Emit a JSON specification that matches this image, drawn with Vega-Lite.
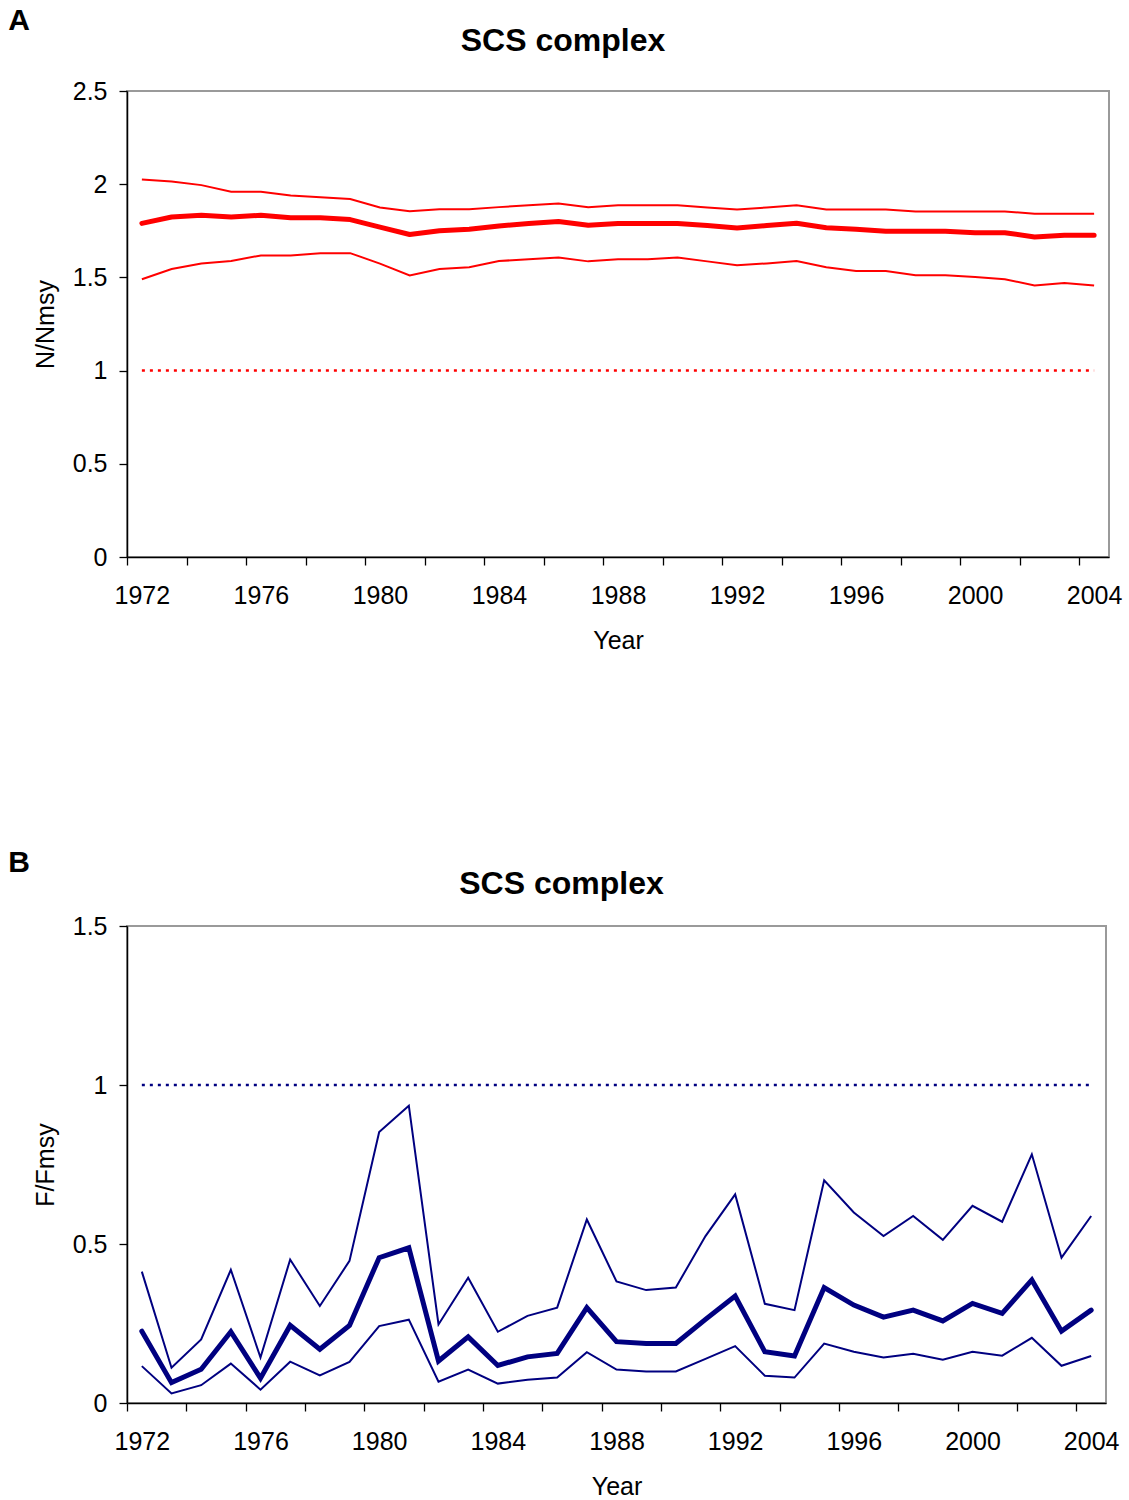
{
  "$schema": "https://vega.github.io/schema/vega-lite/v6.json",
  "background": "white",
  "padding": {"left": 8, "top": 6, "right": 5, "bottom": 0},
  "config": {
    "font": "Liberation Sans",
    "view": {"stroke": "#9a9a9a", "strokeWidth": 2},
    "axis": {
      "labelFont": "Liberation Sans",
      "titleFont": "Liberation Sans",
      "labelFontSize": 25,
      "titleFontSize": 25,
      "titleFontWeight": "normal",
      "labelColor": "#000000",
      "titleColor": "#000000",
      "domainColor": "#000000",
      "domainWidth": 1.5,
      "tickColor": "#000000",
      "tickWidth": 1.3,
      "grid": false
    }
  },
  "datasets": {
    "n": [
      {"year": 1972, "lower": 1.49, "estimate": 1.79, "upper": 2.025},
      {"year": 1973, "lower": 1.545, "estimate": 1.824, "upper": 2.015},
      {"year": 1974, "lower": 1.575, "estimate": 1.833, "upper": 1.995},
      {"year": 1975, "lower": 1.588, "estimate": 1.824, "upper": 1.96},
      {"year": 1976, "lower": 1.618, "estimate": 1.833, "upper": 1.96},
      {"year": 1977, "lower": 1.618, "estimate": 1.82, "upper": 1.94},
      {"year": 1978, "lower": 1.63, "estimate": 1.82, "upper": 1.93},
      {"year": 1979, "lower": 1.63, "estimate": 1.81, "upper": 1.92},
      {"year": 1980, "lower": 1.574, "estimate": 1.77, "upper": 1.875},
      {"year": 1981, "lower": 1.51, "estimate": 1.73, "upper": 1.855},
      {"year": 1982, "lower": 1.545, "estimate": 1.75, "upper": 1.865},
      {"year": 1983, "lower": 1.555, "estimate": 1.758, "upper": 1.865},
      {"year": 1984, "lower": 1.588, "estimate": 1.776, "upper": 1.877},
      {"year": 1985, "lower": 1.597, "estimate": 1.789, "upper": 1.887},
      {"year": 1986, "lower": 1.607, "estimate": 1.8, "upper": 1.897},
      {"year": 1987, "lower": 1.586, "estimate": 1.78, "upper": 1.877},
      {"year": 1988, "lower": 1.597, "estimate": 1.789, "upper": 1.887},
      {"year": 1989, "lower": 1.597, "estimate": 1.789, "upper": 1.887},
      {"year": 1990, "lower": 1.607, "estimate": 1.789, "upper": 1.887},
      {"year": 1991, "lower": 1.586, "estimate": 1.778, "upper": 1.875},
      {"year": 1992, "lower": 1.565, "estimate": 1.765, "upper": 1.864},
      {"year": 1993, "lower": 1.575, "estimate": 1.778, "upper": 1.875},
      {"year": 1994, "lower": 1.588, "estimate": 1.79, "upper": 1.887},
      {"year": 1995, "lower": 1.555, "estimate": 1.766, "upper": 1.864},
      {"year": 1996, "lower": 1.534, "estimate": 1.758, "upper": 1.864},
      {"year": 1997, "lower": 1.534, "estimate": 1.747, "upper": 1.864},
      {"year": 1998, "lower": 1.511, "estimate": 1.747, "upper": 1.853},
      {"year": 1999, "lower": 1.511, "estimate": 1.747, "upper": 1.853},
      {"year": 2000, "lower": 1.502, "estimate": 1.74, "upper": 1.853},
      {"year": 2001, "lower": 1.49, "estimate": 1.74, "upper": 1.853},
      {"year": 2002, "lower": 1.457, "estimate": 1.717, "upper": 1.842},
      {"year": 2003, "lower": 1.47, "estimate": 1.726, "upper": 1.842},
      {"year": 2004, "lower": 1.457, "estimate": 1.726, "upper": 1.842}
    ],
    "f": [
      {"year": 1972, "lower": 0.116, "estimate": 0.226, "upper": 0.413},
      {"year": 1973, "lower": 0.03, "estimate": 0.064, "upper": 0.111},
      {"year": 1974, "lower": 0.056, "estimate": 0.106, "upper": 0.2},
      {"year": 1975, "lower": 0.124, "estimate": 0.224, "upper": 0.419},
      {"year": 1976, "lower": 0.042, "estimate": 0.078, "upper": 0.143},
      {"year": 1977, "lower": 0.13, "estimate": 0.244, "upper": 0.451},
      {"year": 1978, "lower": 0.087, "estimate": 0.169, "upper": 0.305},
      {"year": 1979, "lower": 0.129, "estimate": 0.244, "upper": 0.447},
      {"year": 1980, "lower": 0.242, "estimate": 0.457, "upper": 0.852},
      {"year": 1981, "lower": 0.262, "estimate": 0.488, "upper": 0.935},
      {"year": 1982, "lower": 0.067, "estimate": 0.132, "upper": 0.247},
      {"year": 1983, "lower": 0.105, "estimate": 0.208, "upper": 0.394},
      {"year": 1984, "lower": 0.061, "estimate": 0.118, "upper": 0.224},
      {"year": 1985, "lower": 0.073, "estimate": 0.145, "upper": 0.274},
      {"year": 1986, "lower": 0.08, "estimate": 0.156, "upper": 0.3},
      {"year": 1987, "lower": 0.16, "estimate": 0.3, "upper": 0.577},
      {"year": 1988, "lower": 0.105, "estimate": 0.193, "upper": 0.382},
      {"year": 1989, "lower": 0.099, "estimate": 0.187, "upper": 0.355},
      {"year": 1990, "lower": 0.099, "estimate": 0.187, "upper": 0.363},
      {"year": 1991, "lower": 0.139, "estimate": 0.263, "upper": 0.525},
      {"year": 1992, "lower": 0.179, "estimate": 0.336, "upper": 0.656},
      {"year": 1993, "lower": 0.086, "estimate": 0.161, "upper": 0.312},
      {"year": 1994, "lower": 0.08, "estimate": 0.148, "upper": 0.292},
      {"year": 1995, "lower": 0.187, "estimate": 0.363, "upper": 0.7},
      {"year": 1996, "lower": 0.161, "estimate": 0.308, "upper": 0.599},
      {"year": 1997, "lower": 0.143, "estimate": 0.27, "upper": 0.525},
      {"year": 1998, "lower": 0.155, "estimate": 0.292, "upper": 0.588},
      {"year": 1999, "lower": 0.136, "estimate": 0.258, "upper": 0.513},
      {"year": 2000, "lower": 0.161, "estimate": 0.313, "upper": 0.62},
      {"year": 2001, "lower": 0.149, "estimate": 0.282, "upper": 0.57},
      {"year": 2002, "lower": 0.205, "estimate": 0.387, "upper": 0.782},
      {"year": 2003, "lower": 0.117, "estimate": 0.226, "upper": 0.457},
      {"year": 2004, "lower": 0.148, "estimate": 0.292, "upper": 0.588}
    ]
  },
  "spacing": 194,
  "vconcat": [
    {
      "title": {"text": "A", "anchor": "start", "frame": "bounds", "font": "Liberation Sans", "fontSize": 30, "fontWeight": "bold", "color": "#000000", "dx": -24, "offset": -12},
      "vconcat": [
        {
          "title": {"text": "SCS complex", "font": "Liberation Sans", "fontSize": 32, "fontWeight": "bold", "color": "#000000", "anchor": "middle", "frame": "group", "dx": -55, "offset": 21},
          "width": 982,
          "height": 466,
          "data": {"name": "n"},
          "layer": [
            {
              "mark": {"type": "line", "color": "#ff0000", "strokeWidth": 2},
              "encoding": {
                "x": {"field": "year", "type": "quantitative", "scale": {"domain": [1971.5, 2004.5], "nice": false, "zero": false},
                  "axis": {"orient": "bottom", "values": [1972, 1976, 1980, 1984, 1988, 1992, 1996, 2000, 2004], "format": "d", "ticks": false, "labelPadding": 26, "title": "Year", "titlePadding": 20}},
                "y": {"field": "lower", "type": "quantitative", "scale": {"domain": [0, 2.5], "nice": false, "zero": true},
                  "axis": {"values": [0, 0.5, 1, 1.5, 2, 2.5], "format": "~g", "tickSize": 8, "labelPadding": 12, "title": "N/Nmsy", "titlePadding": 14}}
              }
            },
            {
              "mark": {"type": "line", "color": "#ff0000", "strokeWidth": 2},
              "encoding": {
                "x": {"field": "year", "type": "quantitative", "axis": null},
                "y": {"field": "upper", "type": "quantitative", "title": "N/Nmsy"}
              }
            },
            {
              "mark": {"type": "line", "color": "#ff0000", "strokeWidth": 5, "strokeCap": "round", "strokeJoin": "round"},
              "encoding": {
                "x": {"field": "year", "type": "quantitative", "axis": null},
                "y": {"field": "estimate", "type": "quantitative", "title": "N/Nmsy"}
              }
            },
            {
              "mark": {"type": "line", "color": "#ff0000", "strokeWidth": 2.5, "strokeDash": [3, 5]},
              "encoding": {
                "x": {"field": "year", "type": "quantitative",
                  "axis": {"orient": "bottom", "values": [1971.5, 1973.5, 1975.5, 1977.5, 1979.5, 1981.5, 1983.5, 1985.5, 1987.5, 1989.5, 1991.5, 1993.5, 1995.5, 1997.5, 1999.5, 2001.5, 2003.5], "labels": false, "domain": false, "tickSize": 8, "title": null}},
                "y": {"datum": 1}
              }
            }
          ],
          "resolve": {"axis": {"x": "independent"}}
        }
      ]
    },
    {
      "title": {"text": "B", "anchor": "start", "frame": "bounds", "font": "Liberation Sans", "fontSize": 30, "fontWeight": "bold", "color": "#000000", "dx": -24, "offset": -11},
      "vconcat": [
        {
          "title": {"text": "SCS complex", "font": "Liberation Sans", "fontSize": 32, "fontWeight": "bold", "color": "#000000", "anchor": "middle", "frame": "group", "dx": -55, "offset": 13},
          "width": 979,
          "height": 477,
          "data": {"name": "f"},
          "layer": [
            {
              "mark": {"type": "line", "color": "#000080", "strokeWidth": 2},
              "encoding": {
                "x": {"field": "year", "type": "quantitative", "scale": {"domain": [1971.5, 2004.5], "nice": false, "zero": false},
                  "axis": {"orient": "bottom", "values": [1972, 1976, 1980, 1984, 1988, 1992, 1996, 2000, 2004], "format": "d", "ticks": false, "labelPadding": 26, "title": "Year", "titlePadding": 20}},
                "y": {"field": "lower", "type": "quantitative", "scale": {"domain": [0, 1.5], "nice": false, "zero": true},
                  "axis": {"values": [0, 0.5, 1, 1.5], "format": "~g", "tickSize": 8, "labelPadding": 12, "title": "F/Fmsy", "titlePadding": 14}}
              }
            },
            {
              "mark": {"type": "line", "color": "#000080", "strokeWidth": 2},
              "encoding": {
                "x": {"field": "year", "type": "quantitative", "axis": null},
                "y": {"field": "upper", "type": "quantitative", "title": "F/Fmsy"}
              }
            },
            {
              "mark": {"type": "line", "color": "#000080", "strokeWidth": 5, "strokeCap": "round"},
              "encoding": {
                "x": {"field": "year", "type": "quantitative", "axis": null},
                "y": {"field": "estimate", "type": "quantitative", "title": "F/Fmsy"}
              }
            },
            {
              "mark": {"type": "line", "color": "#000080", "strokeWidth": 2.5, "strokeDash": [3, 5]},
              "encoding": {
                "x": {"field": "year", "type": "quantitative",
                  "axis": {"orient": "bottom", "values": [1971.5, 1973.5, 1975.5, 1977.5, 1979.5, 1981.5, 1983.5, 1985.5, 1987.5, 1989.5, 1991.5, 1993.5, 1995.5, 1997.5, 1999.5, 2001.5, 2003.5], "labels": false, "domain": false, "tickSize": 8, "title": null}},
                "y": {"datum": 1}
              }
            }
          ],
          "resolve": {"axis": {"x": "independent"}}
        }
      ]
    }
  ]
}
